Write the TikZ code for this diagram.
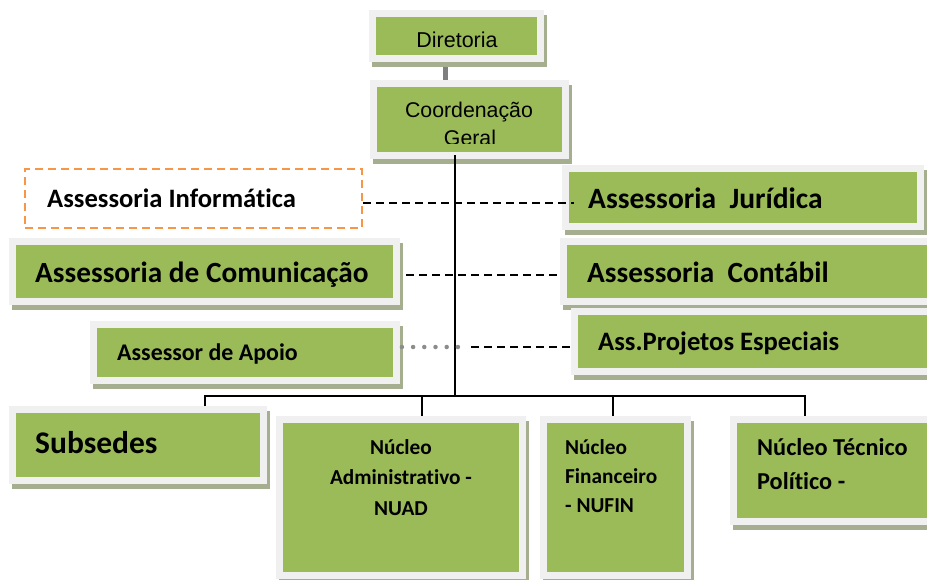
\documentclass[tikz,border=0pt]{standalone}
\usepackage{fontspec}
\setmainfont[Ligatures=NoCommon]{Carlito}
\newfontfamily\arialf{Liberation Sans}
\usetikzlibrary{fit,backgrounds,calc}
\definecolor{gfill}{HTML}{9BBB59}
\definecolor{gframe}{HTML}{F0F0F0}
\definecolor{gshadow}{RGB}{166,174,144}
\definecolor{orangeb}{HTML}{F79646}
\definecolor{connGray}{HTML}{7F7F7F}
\definecolor{dotGray}{HTML}{8C8C8C}
\tikzset{
  gbox/.style={fill=gfill, draw=none, inner sep=0pt},
  txt/.style={inner sep=0pt, anchor=base west, font=\bfseries},
  ctxt/.style={inner sep=0pt, anchor=base, font=\bfseries},
  conn/.style={draw=black, line width=2pt},
  dashc/.style={draw=black, line width=1.8pt, dash pattern=on 8pt off 5pt},
  dotc/.style={draw=dotGray, line width=4.5pt, line cap=round, dash pattern=on 0pt off 11.2pt},
  grayc/.style={draw=connGray, line width=5pt},
}
\newcommand\gbox[5]{%
  \fill[gshadow] (#2-4,#3-2) rectangle (#4+10,#5+12);
  \fill[gframe] (#2-7,#3-7) rectangle (#4+7,#5+7);
  \node[gbox, fit={(#2,#3) (#4,#5)}] (#1) {};
}
\newcommand\fs[1]{\fontsize{#1}{#1}\selectfont}
\begin{document}
\begin{tikzpicture}[x=1pt, y=-1pt]
\clip (0,0) rectangle (927,579);

% boxes
\gbox{dir}{376}{17}{537}{55}
\gbox{coord}{377}{87}{562}{152}
\gbox{jur}{569}{172}{917}{223}
\gbox{cont}{567}{245}{945}{298}
\gbox{proj}{578}{315}{945}{368}
\gbox{com}{16}{245}{393}{298}
\gbox{apoio}{97}{328}{393}{377}
\gbox{sub}{16}{413}{260}{477}
\gbox{nuad}{283}{423}{519}{572}
\gbox{nufin}{547}{423}{684}{572}
\gbox{tec}{737}{423}{945}{518}
\node[draw=orangeb, line width=2pt, dash pattern=on 8pt off 5pt, inner sep=0pt,
      fit={(25,169) (362,228)}] (inf) {};

% connectors under boxes
\begin{scope}[on background layer]
  \fill[white] (0,0) rectangle (927,579);
  \draw[grayc] ([xshift=-11.5pt]dir.south) -- ([xshift=-11.5pt]dir.south |- coord.north);
  \coordinate (busL) at (205,396);
  \coordinate (busR) at (805,396);
  \coordinate (busC) at (455,396);
  \draw[conn] (busL |- sub.north) -- (busL) -- (busR) -- (busR |- tec.north);
  \draw[conn] (busL -| 422,0) -- (nuad.north -| 422,0);
  \draw[conn] (busL -| 613,0) -- (nufin.north -| 613,0);
  \draw[dashc] ([yshift=-3.5pt]com.east) -- ([yshift=-3.5pt]cont.west);
\end{scope}

% connectors on top
\draw[conn] ([xshift=-14.5pt,yshift=-3pt]coord.south) -- (busC);
\draw[dashc] ([yshift=-4.5pt]inf.east) -- ([xshift=5pt,yshift=-5.5pt]jur.west);
\coordinate (dotend) at (469,347);
\draw[dotc] ([xshift=8.7pt,yshift=5.5pt]apoio.east) -- (dotend);
\draw[dashc] ([xshift=2pt]dotend) -- ([xshift=-5pt,yshift=-5.5pt]proj.west);

% texts
\node[ctxt, font=\arialf\fs{21.5}] (tdir) at (457,47) {Diretoria};
\node[ctxt, font=\arialf\fs{21.3}] (tcoord1) at (469,117) {Coordenação};
\begin{scope}
  \clip (377,87) rectangle (562,143);
  \node[ctxt, font=\arialf\fs{21.3}] (tcoord2) at (470,145) {Geral};
\end{scope}
\node[txt, font=\bfseries\fs{26.6}] (tinf) at (47,207) {Assessoria Informática};
\node[txt, font=\bfseries\fs{29.3}] (tcom) at (35,282) {Assessoria de Comunicação};
\node[txt, font=\bfseries\fs{29.5}] (tjur) at (588,208) {Assessoria\ \ Jurídica};
\node[txt, font=\bfseries\fs{29.3}] (tcont) at (587,282) {Assessoria\ \ Contábil};
\node[txt, font=\bfseries\fs{26.6}] (tproj) at (598,350) {Ass.Projetos Especiais};
\node[txt, font=\bfseries\fs{23.9}] (tapoio) at (117,360) {Assessor de Apoio};
\node[txt, font=\bfseries\fs{31.5}] (tsub) at (35,453) {Subsedes};
\node[ctxt, font=\bfseries\fs{21.3}] (tnuad1) at (401,454) {Núcleo};
\node[ctxt, font=\bfseries\fs{21.3}] (tnuad2) at (401,484.5) {Administrativo -};
\node[ctxt, font=\bfseries\fs{21.3}] (tnuad3) at (401,515) {NUAD};
\node[txt, font=\bfseries\fs{21.3}] (tnufin1) at (565,454) {Núcleo};
\node[txt, font=\bfseries\fs{21.3}] (tnufin2) at (565,483) {Financeiro};
\node[txt, font=\bfseries\fs{21.3}] (tnufin3) at (565,512) {- NUFIN};
\node[txt, font=\bfseries\fs{24.3}] (ttec1) at (757,455) {Núcleo Técnico};
\node[txt, font=\bfseries\fs{24.3}] (ttec2) at (757,489) {Político -};
\end{tikzpicture}
\end{document}
